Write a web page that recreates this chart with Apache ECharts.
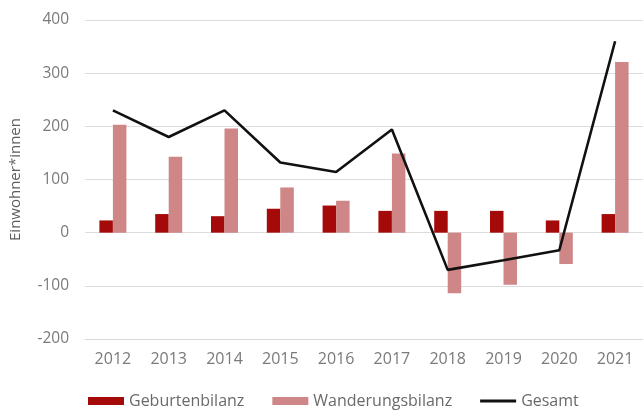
<!DOCTYPE html>
<html>
<head>
<meta charset="utf-8">
<script src="https://cdn.jsdelivr.net/npm/echarts@6/dist/echarts.min.js"></script>
<style>html,body{margin:0;padding:0;background:#fff;}#c{width:643px;height:410px;}</style>
</head>
<body>
<div id="c"></div>
<script>
var years = ['2012','2013','2014','2015','2016','2017','2018','2019','2020','2021'];
var geburtenbilanz = [23, 35, 31, 45, 51, 41, 41, 41, 23, 35];
var wanderungsbilanz = [203, 143, 196, 85, 60, 149, -114, -98, -59, 321];
var gesamt = [230, 180, 230, 132, 114, 194, -70, -52, -33, 360];
var seriesNames = ['Geburtenbilanz', 'Wanderungsbilanz', 'Gesamt'];
var yTitle = 'Einwohner*innen';

var chart = echarts.init(document.getElementById('c'), null, {renderer: 'canvas'});
var font = '"Open Sans", sans-serif';
var lineIcon = 'path://M0,0h0.01v0.01h-0.01z M0,2.6h36v2.8h-36z M35.99,7.99h0.01v0.01h-0.01z';
chart.setOption({
  animation: false,
  backgroundColor: '#ffffff',
  textStyle: {fontFamily: font},
  grid: {left: 85, top: 20, width: 563, height: 319},
  legend: {
    left: 83, top: 388,
    itemWidth: 36, itemHeight: 8, itemGap: 28,
    textStyle: {fontFamily: font, fontSize: 16, color: '#6a6a6a'},
    data: [
      {name: seriesNames[0], icon: 'rect'},
      {name: seriesNames[1], icon: 'rect'},
      {name: seriesNames[2], icon: lineIcon, itemStyle: {color: '#111111'}}
    ]
  },
  xAxis: {
    type: 'category',
    data: years,
    axisLine: {onZero: false, lineStyle: {color: '#d9d9d9'}},
    axisTick: {show: false},
    axisLabel: {fontFamily: font, fontSize: 16, color: '#7a7a7a', margin: 12}
  },
  yAxis: {
    type: 'value',
    min: -200, max: 400, interval: 100,
    name: yTitle,
    nameLocation: 'middle',
    nameGap: 62,
    nameTextStyle: {fontFamily: font, fontSize: 15, color: '#5e5e5e'},
    axisLine: {show: false},
    axisTick: {show: false},
    axisLabel: {fontFamily: font, fontSize: 15.5, color: '#7a7a7a', margin: 16},
    splitLine: {lineStyle: {color: '#dcdcdc', width: 1}}
  },
  series: [
    {name: seriesNames[0], type: 'bar', data: geburtenbilanz, barWidth: 13.5, barGap: '0%',
     itemStyle: {color: '#a50a0a'}},
    {name: seriesNames[1], type: 'bar', data: wanderungsbilanz, barWidth: 13.5, barGap: '0%',
     itemStyle: {color: '#cf8686'}},
    {name: seriesNames[2], type: 'line', data: gesamt, symbol: 'none', z: 5,
     lineStyle: {color: '#111111', width: 2.6}, itemStyle: {color: '#111111'}}
  ]
});
</script>
</body>
</html>
